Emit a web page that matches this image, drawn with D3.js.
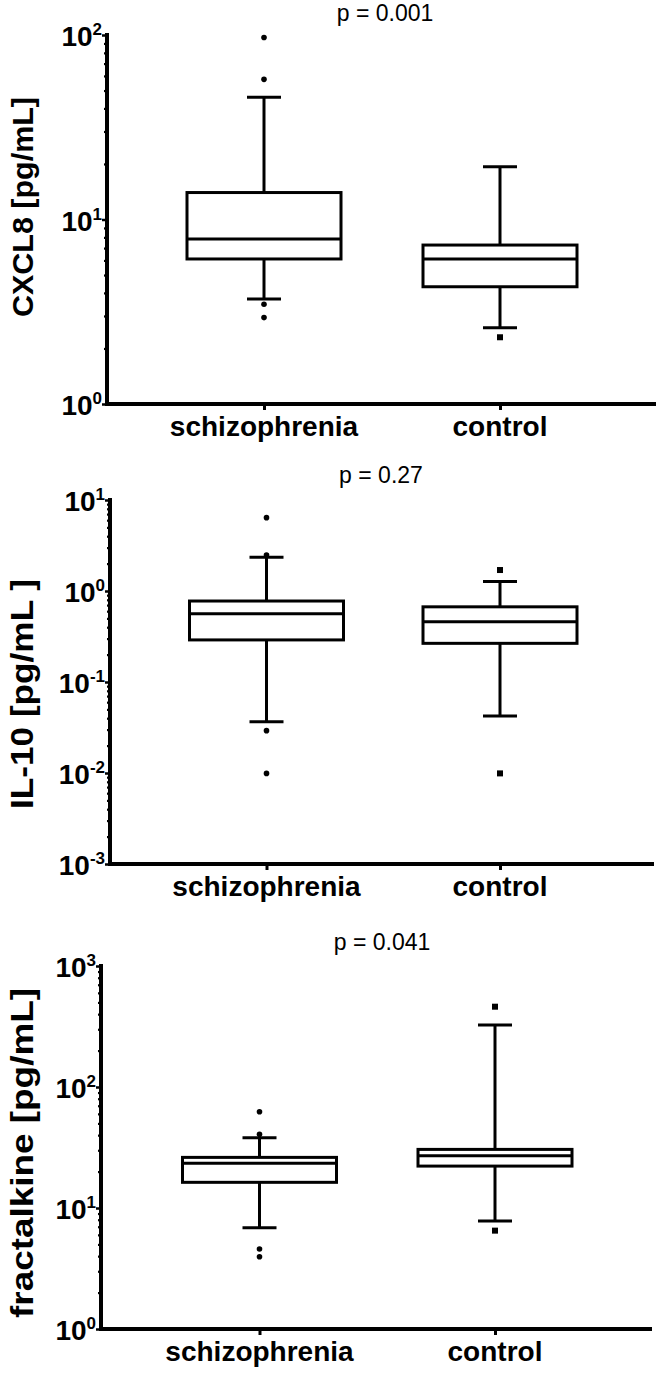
<!DOCTYPE html>
<html>
<head>
<meta charset="utf-8">
<script src="https://cdn.jsdelivr.net/npm/d3@7"></script>
<style>
  html, body { margin: 0; padding: 0; background: #fff; }
  svg { display: block; }
  text { font-family: "Liberation Sans", Arial, Helvetica, sans-serif; fill: #000; }
</style>
</head>
<body>
<svg id="chart" width="661" height="1373"></svg>
<script>
// ---------- DATA ----------
const categories = ["schizophrenia", "control"];

// Panel 1: CXCL8 [pg/mL]
const cxcl8Min      = [3.71, 2.59];
const cxcl8Q1       = [6.11, 4.32];
const cxcl8Median   = [7.84, 6.11];
const cxcl8Q3       = [14.0, 7.27];
const cxcl8Max      = [46.0, 19.3];
const cxcl8Outliers = [[97, 57.5, 3.47, 2.94], [2.30]];
const cxcl8Exponents = [0, 1, 2];

// Panel 2: IL-10 [pg/mL ]
const il10Min      = [0.0366, 0.0423];
const il10Q1       = [0.29, 0.266];
const il10Median   = [0.564, 0.46];
const il10Q3       = [0.776, 0.67];
const il10Max      = [2.35, 1.27];
const il10Outliers = [[6.4, 2.49, 0.0292, 0.0099], [1.70, 0.0099]];
const il10Exponents = [-3, -2, -1, 0, 1];

// Panel 3: fractalkine [pg/mL]
const fktMin      = [6.87, 7.8];
const fktQ1       = [16.3, 22.2];
const fktMedian   = [23.4, 27.0];
const fktQ3       = [26.2, 30.5];
const fktMax      = [38.1, 325];
const fktOutliers = [[62.5, 40.6, 4.58, 3.96], [461, 6.5]];
const fktExponents = [0, 1, 2, 3];

const pLabels = ["p = 0.001", "p = 0.27", "p = 0.041"];
const yTitles = ["CXCL8 [pg/mL]", "IL-10 [pg/mL ]", "fractalkine [pg/mL]"];

// ---------- LAYOUT ----------
const svg = d3.select("#chart");

const panels = [
  { axisX: 107, yTop: 35,  yBot: 404,  xEnd: 656, c0: 264,   c1: 500, pX: 385, pY: 21,
    titleY: 207, titleLen: 220, titleSize: 30,
    exps: cxcl8Exponents, mn: cxcl8Min, q1: cxcl8Q1, md: cxcl8Median, q3: cxcl8Q3, mx: cxcl8Max, out: cxcl8Outliers,
    p: pLabels[0], title: yTitles[0] },
  { axisX: 110, yTop: 500, yBot: 864,  xEnd: 654, c0: 266.5, c1: 500, pX: 381, pY: 483,
    titleY: 694, titleLen: 230, titleSize: 31,
    exps: il10Exponents, mn: il10Min, q1: il10Q1, md: il10Median, q3: il10Q3, mx: il10Max, out: il10Outliers,
    p: pLabels[1], title: yTitles[1] },
  { axisX: 101, yTop: 966, yBot: 1329, xEnd: 652, c0: 259.5, c1: 495, pX: 382, pY: 950,
    titleY: 1153, titleLen: 330, titleSize: 32,
    exps: fktExponents, mn: fktMin, q1: fktQ1, md: fktMedian, q3: fktQ3, mx: fktMax, out: fktOutliers,
    p: pLabels[2], title: yTitles[2] }
];

const boxW = 154, capW = 34;

panels.forEach(cfg => {
  const g = svg.append("g");
  const lo = Math.pow(10, d3.min(cfg.exps)), hi = Math.pow(10, d3.max(cfg.exps));
  const y = d3.scaleLog().domain([lo, hi]).range([cfg.yBot, cfg.yTop]);
  const x = d3.scalePoint().domain(categories).range([cfg.c0, cfg.c1]);

  // minor + major ticks
  const minor = [];
  for (let e = d3.min(cfg.exps); e < d3.max(cfg.exps); e++) {
    for (let k = 2; k <= 9; k++) minor.push(k * Math.pow(10, e));
  }
  const majors = cfg.exps.map(e => Math.pow(10, e));

  const minorAxis = d3.axisLeft(y).tickValues(minor).tickSize(3).tickSizeOuter(0).tickFormat("");
  const gm = g.append("g").attr("transform", `translate(${cfg.axisX},0)`).call(minorAxis);
  gm.select(".domain").remove();
  gm.selectAll(".tick line").attr("stroke", "#000").attr("stroke-width", 2.2);

  const majorAxis = d3.axisLeft(y).tickValues(majors).tickSize(5).tickSizeOuter(0).tickFormat("");
  const gM = g.append("g").attr("transform", `translate(${cfg.axisX},0)`).call(majorAxis);
  gM.select(".domain").remove();
  gM.selectAll(".tick line").attr("stroke", "#000").attr("stroke-width", 2.5);

  // tick labels 10^n
  cfg.exps.forEach(e => {
    const t = g.append("text")
      .attr("x", cfg.axisX - 5)
      .attr("y", y(Math.pow(10, e)) + 11)
      .attr("text-anchor", "end")
      .style("font-weight", "bold")
      .style("font-size", "28px");
    t.append("tspan").text("10");
    t.append("tspan").attr("dy", -11).style("font-size", "17px").text(String(e));
  });

  // x-axis category ticks
  const xAxis = d3.axisBottom(x).tickSize(6).tickSizeOuter(0).tickFormat("");
  const gx = g.append("g").attr("transform", `translate(0,${cfg.yBot})`).call(xAxis);
  gx.select(".domain").remove();
  gx.selectAll(".tick line").attr("stroke", "#000").attr("stroke-width", 3);

  // axis lines
  g.append("path")
    .attr("d", `M${cfg.axisX},${cfg.yTop - 2}V${cfg.yBot}H${cfg.xEnd}`)
    .attr("fill", "none").attr("stroke", "#000").attr("stroke-width", 4)
    .attr("stroke-linejoin", "miter");

  // category labels
  categories.forEach(c => {
    g.append("text").attr("x", x(c)).attr("y", cfg.yBot + 32)
      .attr("text-anchor", "middle")
      .style("font-weight", "bold").style("font-size", "28px")
      .text(c);
  });

  // y title
  g.append("text")
    .attr("transform", `translate(33,${cfg.titleY}) rotate(-90)`)
    .attr("text-anchor", "middle")
    .attr("textLength", cfg.titleLen)
    .attr("lengthAdjust", "spacingAndGlyphs")
    .style("font-weight", "bold").style("font-size", cfg.titleSize + "px")
    .text(cfg.title);

  // p-value
  g.append("text").attr("x", cfg.pX).attr("y", cfg.pY)
    .attr("text-anchor", "middle").style("font-size", "23px")
    .text(cfg.p);

  // boxes
  categories.forEach((c, i) => {
    const cx = x(c);
    const bg = g.append("g").attr("stroke", "#000").attr("stroke-width", 3).attr("fill", "none");
    // whiskers
    bg.append("line").attr("x1", cx).attr("x2", cx).attr("y1", y(cfg.q3[i])).attr("y2", y(cfg.mx[i]));
    bg.append("line").attr("x1", cx).attr("x2", cx).attr("y1", y(cfg.q1[i])).attr("y2", y(cfg.mn[i]));
    bg.append("line").attr("x1", cx - capW / 2).attr("x2", cx + capW / 2).attr("y1", y(cfg.mx[i])).attr("y2", y(cfg.mx[i]));
    bg.append("line").attr("x1", cx - capW / 2).attr("x2", cx + capW / 2).attr("y1", y(cfg.mn[i])).attr("y2", y(cfg.mn[i]));
    // box
    bg.append("rect").attr("x", cx - boxW / 2).attr("width", boxW)
      .attr("y", y(cfg.q3[i])).attr("height", y(cfg.q1[i]) - y(cfg.q3[i]))
      .attr("fill", "#fff");
    bg.append("line").attr("x1", cx - boxW / 2).attr("x2", cx + boxW / 2)
      .attr("y1", y(cfg.md[i])).attr("y2", y(cfg.md[i]));
    // outliers
    cfg.out[i].forEach(v => {
      if (i === 0) {
        g.append("circle").attr("cx", cx).attr("cy", y(v)).attr("r", 2.8).attr("fill", "#000");
      } else {
        g.append("rect").attr("x", cx - 3).attr("y", y(v) - 3).attr("width", 6).attr("height", 6).attr("fill", "#000");
      }
    });
  });
});
</script>
</body>
</html>
